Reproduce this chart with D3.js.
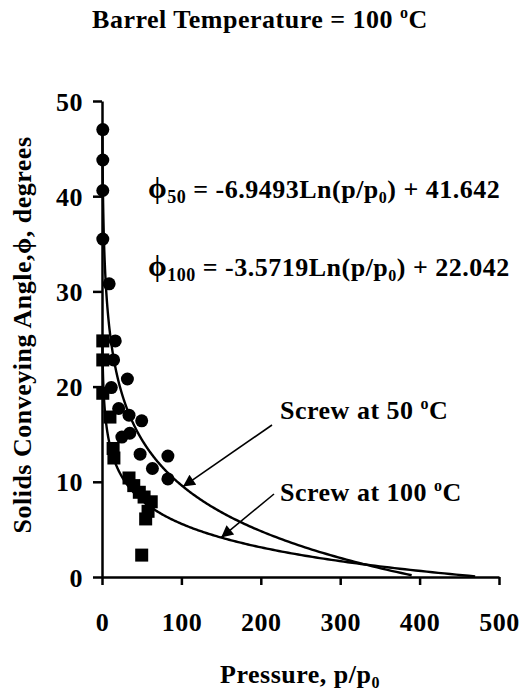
<!DOCTYPE html>
<html><head><meta charset="utf-8">
<script src="https://cdn.jsdelivr.net/npm/d3@7"></script>
<style>
body{margin:0;background:#fff}
text{font-family:"Liberation Serif","Times New Roman",serif;font-weight:bold;fill:#000}
</style>
</head><body><svg id="c" width="522" height="694"></svg>
<script>
// ---- data ----
const xTicks = [0, 100, 200, 300, 400, 500];
const yTicks = [0, 10, 20, 30, 40, 50];
// Screw at 50 °C (circles)
const p50   = [1, 1, 1, 1, 9, 16.7, 14.6, 32, 11.7, 21, 34, 50, 25, 35, 48, 83, 63.5, 83];
const phi50 = [47.0, 43.8, 40.6, 35.5, 30.8, 24.8, 22.8, 20.8, 19.9, 17.7, 17.0, 16.4, 14.7, 15.1, 12.9, 12.7, 11.4, 10.3];
// Screw at 100 °C (squares)
const p100   = [1, 1, 1, 10, 14, 15, 34, 40, 47, 53, 62, 58, 55, 50];
const phi100 = [24.8, 22.8, 19.3, 16.8, 13.5, 12.5, 10.4, 9.6, 8.9, 8.4, 7.9, 6.9, 6.1, 2.3];
// logarithmic trendlines phi = a*ln(p) + b, with drawn p range
const fit50  = {a: -6.9493, b: 41.642, pMin: 0.45, pMax: 390};
const fit100 = {a: -3.5719, b: 22.042, pMin: 0.45, pMax: 470};

// ---- chart ----
const FS = "26px", FSsub = "16px", LS = "0.5px";
const svg = d3.select("#c");
const x = d3.scaleLinear().domain([0, 500]).range([102, 499]);
const y = d3.scaleLinear().domain([0, 50]).range([577, 101]);

// axes
const xAxis = d3.axisBottom(x).tickValues(xTicks).tickSize(8).tickSizeOuter(0);
const yAxis = d3.axisLeft(y).tickValues(yTicks).tickSize(9).tickSizeOuter(0).tickPadding(10);
const gx = svg.append("g").attr("transform", `translate(0,${y(0)})`).call(xAxis);
const gy = svg.append("g").attr("transform", `translate(${x(0)},0)`).call(yAxis);
[gx, gy].forEach(g => {
  g.select(".domain").attr("stroke", "#000").attr("stroke-width", 2.5);
  g.selectAll(".tick line").attr("stroke", "#000").attr("stroke-width", 2.5);
  g.selectAll(".tick text").style("font-size", FS).style("letter-spacing", LS)
    .style("font-family", '"Liberation Serif",serif').style("font-weight", "bold").attr("fill", "#000");
});
gx.selectAll(".tick text").attr("dy", "0.35em").attr("y", 45);
gy.selectAll(".tick text").attr("dy", "0.35em");

// trendlines
function curve(f) {
  const pts = [];
  const n = 400;
  for (let i = 0; i <= n; i++) {
    const p = Math.exp(Math.log(f.pMin) + (Math.log(f.pMax) - Math.log(f.pMin)) * i / n);
    pts.push([p, Math.max(0, f.a * Math.log(p) + f.b)]);
  }
  return pts;
}
const line = d3.line().x(d => x(d[0])).y(d => y(d[1]));
[fit50, fit100].forEach(f => {
  svg.append("path").attr("d", line(curve(f))).attr("fill", "none").attr("stroke", "#000").attr("stroke-width", 2.4);
});

// markers
svg.append("g").selectAll("circle").data(p50.map((p, i) => [p, phi50[i]])).join("circle")
  .attr("cx", d => x(d[0])).attr("cy", d => y(d[1])).attr("r", 6.5).attr("fill", "#000");
const s = 13;
svg.append("g").selectAll("rect").data(p100.map((p, i) => [p, phi100[i]])).join("rect")
  .attr("x", d => x(d[0]) - s / 2).attr("y", d => y(d[1]) - s / 2).attr("width", s).attr("height", s).attr("fill", "#000");

function degText(sel, label) {
  sel.append("tspan").text(label + " ");
  sel.append("tspan").attr("dy", -10).style("font-size", FSsub).text("o");
  sel.append("tspan").attr("dy", 10).text("C");
}

// title
degText(svg.append("text").attr("x", 260).attr("y", 28).attr("text-anchor", "middle")
  .style("font-size", FS).style("letter-spacing", LS), "Barrel Temperature = 100");

// axis titles
const xt = svg.append("text").attr("x", 300).attr("y", 683).attr("text-anchor", "middle")
  .style("font-size", FS).style("letter-spacing", LS);
xt.append("tspan").text("Pressure, p/p");
xt.append("tspan").attr("dy", 5).style("font-size", FSsub).text("0");
svg.append("text").attr("transform", "translate(31,335) rotate(-90)").attr("text-anchor", "middle")
  .style("font-size", FS).style("letter-spacing", LS)
  .text("Solids Conveying Angle,\u03d5, degrees");

// equations
function eqText(yPos, sub, body, c) {
  const t = svg.append("text").attr("x", 148).attr("y", yPos).style("font-size", FS).style("letter-spacing", LS);
  t.append("tspan").style("font-size", "30px").text("\u03d5");
  t.append("tspan").attr("dy", 5).style("font-size", "18px").text(sub);
  t.append("tspan").attr("dy", -5).text(" = " + body + "Ln(p/p");
  t.append("tspan").attr("dy", 5).style("font-size", FSsub).text("0");
  t.append("tspan").attr("dy", -5).text(") + " + c);
}
eqText(198, "50", fit50.a.toString(), fit50.b.toFixed(3));
eqText(276, "100", fit100.a.toString(), fit100.b.toFixed(3));

// annotations
degText(svg.append("text").attr("x", 280).attr("y", 419).style("font-size", FS).style("letter-spacing", LS), "Screw at 50");
degText(svg.append("text").attr("x", 280).attr("y", 501).style("font-size", FS).style("letter-spacing", LS), "Screw at 100");

svg.append("defs").append("marker").attr("id", "ah").attr("viewBox", "0 0 10 10")
  .attr("refX", 10).attr("refY", 5).attr("markerWidth", 16).attr("markerHeight", 12)
  .attr("markerUnits", "userSpaceOnUse").attr("orient", "auto")
  .append("path").attr("d", "M0,0 L10,5 L0,10 Z").attr("fill", "#000");
const f50 = p => fit50.a * Math.log(p) + fit50.b;
const f100 = p => fit100.a * Math.log(p) + fit100.b;
svg.append("line").attr("x1", 272).attr("y1", 425).attr("x2", x(102)).attr("y2", y(f50(102)))
  .attr("stroke", "#000").attr("stroke-width", 1.6).attr("marker-end", "url(#ah)");
svg.append("line").attr("x1", 274).attr("y1", 494).attr("x2", x(150)).attr("y2", y(f100(150)))
  .attr("stroke", "#000").attr("stroke-width", 1.6).attr("marker-end", "url(#ah)");
</script>
</body></html>
